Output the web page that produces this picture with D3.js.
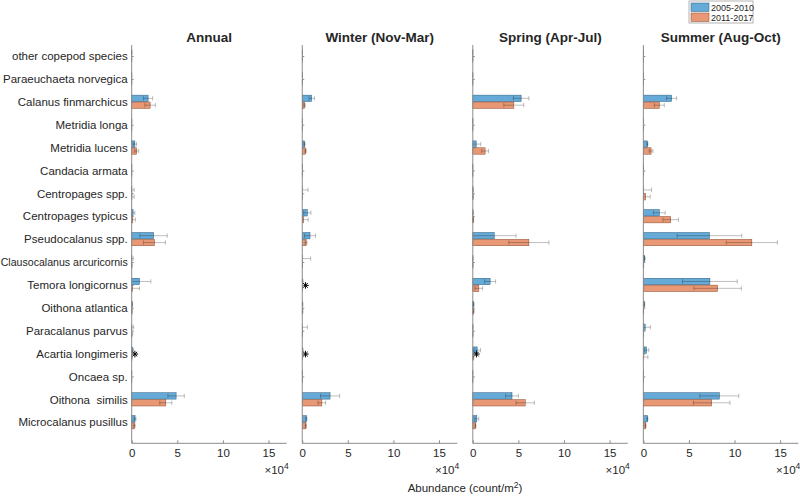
<!DOCTYPE html>
<html><head><meta charset="utf-8">
<script src="https://cdn.jsdelivr.net/npm/d3@7"></script>
<style>
html,body{margin:0;padding:0;background:#fff;}
text{font-family:"Liberation Sans",Arial,Helvetica,sans-serif;fill:#262626;white-space:pre;}
</style></head>
<body><svg id="chart" width="800" height="497"></svg>
<script>
// ---- data (values in units of 10^4 count/m^2) ----
const categories = ["other copepod species","Paraeuchaeta norvegica","Calanus finmarchicus","Metridia longa","Metridia lucens","Candacia armata","Centropages spp.","Centropages typicus","Pseudocalanus spp.","Clausocalanus arcuricornis","Temora longicornus","Oithona atlantica","Paracalanus parvus","Acartia longimeris","Oncaea sp.","Oithona  similis","Microcalanus pusillus"];
const seasons = ["Annual","Winter (Nov-Mar)","Spring (Apr-Jul)","Summer (Aug-Oct)"];
const periods = ["2005-2010","2011-2017"];
const xTicks = [0,5,10,15];

const annual1    = [0.01,0.005,1.8,0.005,0.35,0.005,0.02,0.15,2.4,0.02,0.85,0.05,0.02,0.1,0.005,4.87,0.37];
const annual1Err = [0.03,0.02,0.5,0.02,0.18,0.02,0.25,0.2,1.5,0.15,1.25,0.05,0.2,0.1,0.02,0.9,0.1];
const annual2    = [0.005,0.005,2.02,0.005,0.55,0.005,0.02,0.12,2.5,0.01,0.1,0.03,0.01,0.02,0.005,3.74,0.3];
const annual2Err = [0.02,0.02,0.58,0.02,0.22,0.02,0.25,0.28,1.2,0.05,0.75,0.03,0.1,0.03,0.01,0.66,0.08];

const winter1    = [0.005,0.005,1.04,0.005,0.25,0.005,0.02,0.55,0.85,0.02,0.05,0.05,0.02,0.05,0.005,3.05,0.45];
const winter1Err = [0.01,0.02,0.3,0.01,0.06,0.01,0.62,0.4,0.6,0.9,0.05,0.03,0.55,0.05,0.01,1.05,0.07];
const winter2    = [0.005,0.005,0.25,0.005,0.38,0.005,0.01,0.15,0.42,0.01,0.02,0.05,0.01,0.02,0.005,2.15,0.4];
const winter2Err = [0.01,0.01,0.08,0.01,0.06,0.01,0.02,0.5,0.1,0.02,0.02,0.03,0.02,0.02,0.01,0.42,0.06];

const spring1    = [0.005,0.005,5.3,0.005,0.37,0.005,0.02,0.02,2.35,0.01,1.9,0.1,0.01,0.48,0.005,4.3,0.44];
const spring1Err = [0.01,0.01,0.85,0.01,0.5,0.01,0.04,0.04,2.4,0.02,0.6,0.05,0.02,0.37,0.01,0.7,0.22];
const spring2    = [0.005,0.005,4.5,0.005,1.35,0.005,0.02,0.05,6.15,0.01,0.66,0.1,0.01,0.05,0.005,5.75,0.3];
const spring2Err = [0.01,0.01,1.1,0.01,0.38,0.01,0.04,0.04,2.2,0.02,0.42,0.05,0.02,0.05,0.01,1.0,0.05];

const summer1    = [0.005,0.005,3.1,0.005,0.45,0.005,0.02,1.75,7.25,0.15,7.3,0.1,0.2,0.35,0.005,8.33,0.45];
const summer1Err = [0.01,0.01,0.55,0.01,0.05,0.01,0.88,0.65,3.55,0.05,3.0,0.05,0.57,0.25,0.01,2.13,0.05];
const summer2    = [0.005,0.005,1.75,0.005,0.85,0.005,0.25,3.0,11.9,0.02,8.15,0.02,0.01,0.05,0.005,7.5,0.25];
const summer2Err = [0.01,0.01,0.55,0.01,0.2,0.01,0.5,0.85,2.8,0.01,2.6,0.01,0.02,0.45,0.01,2.0,0.05];

// significance markers
const starSeason   = [0,1,1,2];
const starCategory = ["Acartia longimeris","Temora longicornus","Acartia longimeris","Acartia longimeris"];
const starValue    = [0.35,0.35,0.35,0.4];

// ---- build ----
const seasonData = [
  [[annual1,annual1Err],[annual2,annual2Err]],
  [[winter1,winter1Err],[winter2,winter2Err]],
  [[spring1,spring1Err],[spring2,spring2Err]],
  [[summer1,summer1Err],[summer2,summer2Err]]
];
const colors = ["#66aad7","#e89875"];
const strokes = ["#2b5d80","#8a4a30"];

const svg = d3.select("#chart");
const panelLeft0 = 131.7, panelStep = 170.55, panelW = 155;
const plotTop = 45, plotBottom = 443.3;
const n = categories.length;

const y = d3.scaleLinear().domain([0.08, 17.48]).range([plotBottom, plotTop]);
const catPos = c => n - categories.indexOf(c);
const barOff = 0.15, barH = 0.28;

seasons.forEach((season, si) => {
  const left = panelLeft0 + si*panelStep;
  const x = d3.scaleLinear().domain([0,17]).range([0, panelW]);
  const g = svg.append("g").attr("transform", `translate(${left},0)`);

  seasonData[si].forEach(([vals, errs], pi) => {
    const off = pi === 0 ? barOff : -barOff;
    const rows = categories.map((c,i) => ({c, v: vals[i], e: errs[i], p: catPos(c) + off}));
    g.selectAll(null).data(rows).enter().append("rect")
      .attr("x", x(0))
      .attr("y", d => y(d.p + barH/2))
      .attr("width", d => x(d.v) - x(0))
      .attr("height", y(0) - y(barH))
      .attr("fill", colors[pi])
      .attr("stroke", strokes[pi])
      .attr("stroke-width", 0.5);
    const eg = g.selectAll(null).data(rows).enter().append("g")
      .attr("stroke", "#000").attr("stroke-opacity", 0.32).attr("stroke-width", 0.8);
    eg.append("line")
      .attr("x1", d => x(Math.max(0, d.v - d.e))).attr("x2", d => x(d.v + d.e))
      .attr("y1", d => y(d.p)).attr("y2", d => y(d.p));
    eg.append("line")
      .attr("x1", d => x(d.v + d.e)).attr("x2", d => x(d.v + d.e))
      .attr("y1", d => y(d.p) - 2.2).attr("y2", d => y(d.p) + 2.2);
    eg.filter(d => d.v - d.e > 0).append("line")
      .attr("x1", d => x(d.v - d.e)).attr("x2", d => x(d.v - d.e))
      .attr("y1", d => y(d.p) - 2.2).attr("y2", d => y(d.p) + 2.2);
  });

  starSeason.forEach((s, k) => {
    if (s !== si) return;
    const cx = x(starValue[k]), cy = y(catPos(starCategory[k])) + 0.5;
    const r = 3.3;
    const path = d3.path();
    for (let a = 0; a < 4; a++) {
      const ang = a*Math.PI/4;
      path.moveTo(cx - r*Math.cos(ang), cy - r*Math.sin(ang));
      path.lineTo(cx + r*Math.cos(ang), cy + r*Math.sin(ang));
    }
    g.append("path").attr("d", path.toString()).attr("stroke", "#000").attr("stroke-width", 1).attr("fill", "none");
  });

  const xAxis = d3.axisBottom(x).tickValues(xTicks).tickSize(-3).tickPadding(6).tickFormat(d3.format("d"));
  const xg = g.append("g").attr("transform", `translate(0,${plotBottom})`).call(xAxis);
  xg.select(".domain").attr("stroke", "#8c8c8c").attr("d", `M0,0H${panelW}`);
  xg.selectAll(".tick line").attr("stroke", "#8c8c8c");
  xg.selectAll(".tick text").attr("font-size", 11.5).attr("fill", "#262626")
    .style("font-family", '"Liberation Sans",Arial,sans-serif');

  const yAxis = d3.axisLeft(y).tickValues(categories.map(c => catPos(c)))
    .tickSize(-2).tickPadding(4)
    .tickFormat(si === 0 ? (d => categories[n - d]) : () => "");
  const yg = g.append("g").call(yAxis);
  yg.select(".domain").attr("stroke", "#8c8c8c").attr("d", `M0,${plotBottom}V${plotTop}`);
  yg.selectAll(".tick line").attr("stroke", "#8c8c8c");
  yg.selectAll(".tick text").attr("font-size", 11.5).attr("fill", "#262626")
    .style("font-family", '"Liberation Sans",Arial,sans-serif')
    .style("white-space", "pre")
    .each(function() {
      const len = this.getComputedTextLength();
      if (len > 127) d3.select(this).attr("textLength", 127).attr("lengthAdjust", "spacingAndGlyphs");
    });

  const ex = g.append("text").attr("x", panelW + 2).attr("y", plotBottom + 31)
    .attr("text-anchor", "end").attr("font-size", 11.5);
  ex.append("tspan").text("×10");
  ex.append("tspan").attr("dy", -5).attr("font-size", 8.5).text("4");

  g.append("text").attr("x", panelW/2).attr("y", 41.5).attr("text-anchor", "middle")
    .attr("font-size", 13.5).attr("font-weight", "bold").text(season);
});

const xl = svg.append("text").attr("x", 465).attr("y", 492).attr("text-anchor", "middle").attr("font-size", 11.5);
xl.append("tspan").text("Abundance (count/m");
xl.append("tspan").attr("dy", -4).attr("font-size", 8.5).text("2");
xl.append("tspan").attr("dy", 4).text(")");

const lg = svg.append("g").attr("transform", "translate(689,1)");
lg.append("rect").attr("width", 64).attr("height", 22).attr("fill", "#fff").attr("stroke", "#a0a0a0").attr("stroke-width", 0.8);
periods.forEach((p, i) => {
  lg.append("rect").attr("x", 2).attr("y", 2 + i*10).attr("width", 18).attr("height", 8.5)
    .attr("fill", colors[i]).attr("stroke", strokes[i]).attr("stroke-width", 0.5);
  lg.append("text").attr("x", 22).attr("y", 9.5 + i*10).attr("font-size", 9).text(p);
});
</script></body></html>
